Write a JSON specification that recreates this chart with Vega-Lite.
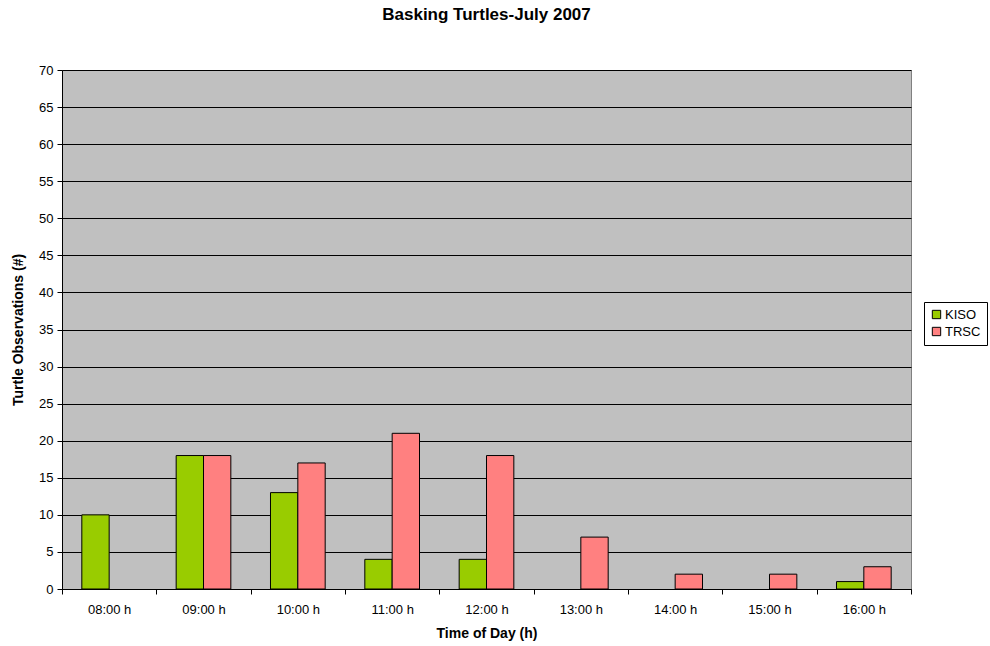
{
  "$schema": "https://vega.github.io/schema/vega-lite/v6.json",
  "width": 849,
  "height": 519,
  "autosize": "none",
  "padding": {"left": 62, "top": 70, "right": 79, "bottom": 57},
  "background": "white",
  "title": {"text": "Basking Turtles-July 2007", "font": "Liberation Sans", "fontSize": 17, "fontWeight": "bold", "color": "black", "offset": 40, "anchor": "middle"},
  "data": {"values": [
    {"time": "08:00 h", "site": "KISO", "count": 10},
    {"time": "09:00 h", "site": "KISO", "count": 18},
    {"time": "09:00 h", "site": "TRSC", "count": 18},
    {"time": "10:00 h", "site": "KISO", "count": 13},
    {"time": "10:00 h", "site": "TRSC", "count": 17},
    {"time": "11:00 h", "site": "KISO", "count": 4},
    {"time": "11:00 h", "site": "TRSC", "count": 21},
    {"time": "12:00 h", "site": "KISO", "count": 4},
    {"time": "12:00 h", "site": "TRSC", "count": 18},
    {"time": "13:00 h", "site": "TRSC", "count": 7},
    {"time": "14:00 h", "site": "TRSC", "count": 2},
    {"time": "15:00 h", "site": "TRSC", "count": 2},
    {"time": "16:00 h", "site": "KISO", "count": 1},
    {"time": "16:00 h", "site": "TRSC", "count": 3}
  ]},
  "mark": {"type": "bar", "stroke": "black", "strokeWidth": 1},
  "encoding": {
    "x": {
      "field": "time", "type": "nominal",
      "sort": ["08:00 h","09:00 h","10:00 h","11:00 h","12:00 h","13:00 h","14:00 h","15:00 h","16:00 h"],
      "scale": {"domain": ["08:00 h","09:00 h","10:00 h","11:00 h","12:00 h","13:00 h","14:00 h","15:00 h","16:00 h"], "paddingInner": 0, "paddingOuter": 0},
      "axis": {"title": "Time of Day (h)", "labelAngle": 0, "tickBand": "extent", "grid": false, "domainColor": "black", "tickColor": "black", "tickSize": 5, "labelPadding": 9, "titlePadding": 10}
    },
    "xOffset": {"field": "site", "type": "nominal", "scale": {"domain": ["KISO", "TRSC"], "paddingInner": 0, "paddingOuter": 0.725}},
    "y": {
      "field": "count", "type": "quantitative",
      "scale": {"domain": [0, 70], "nice": false},
      "axis": {"title": "Turtle Observations (#)", "values": [0,5,10,15,20,25,30,35,40,45,50,55,60,65,70], "grid": true, "gridColor": "black", "gridOpacity": 1, "domainColor": "black", "tickColor": "black", "tickSize": 5, "labelPadding": 4, "titlePadding": 13}
    },
    "color": {
      "field": "site", "type": "nominal",
      "scale": {"domain": ["KISO", "TRSC"], "range": ["#99CC00", "#FF8080"]},
      "legend": {"title": null, "orient": "none", "legendX": 862, "legendY": 232, "symbolType": "square", "symbolStrokeColor": "black", "symbolStrokeWidth": 1, "symbolSize": 70, "strokeColor": "black", "fillColor": "white", "padding": 6, "labelFontSize": 13, "labelFont": "Liberation Sans", "labelColor": "black", "rowPadding": 3, "symbolOffset": 0, "labelOffset": 2}
    }
  },
  "config": {
    "font": "Liberation Sans",
    "view": {"fill": "#C0C0C0", "stroke": "#808080", "strokeWidth": 1},
    "axis": {"labelFont": "Liberation Sans", "labelFontSize": 13, "labelColor": "black", "titleFont": "Liberation Sans", "titleFontSize": 14, "titleFontWeight": "bold", "titleColor": "black", "domainWidth": 1, "gridWidth": 1}
  }
}
